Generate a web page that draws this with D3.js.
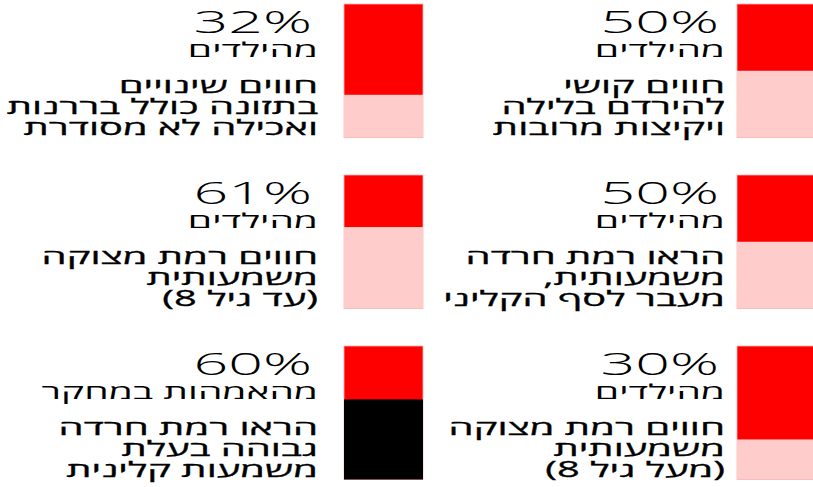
<!DOCTYPE html>
<html>
<head>
<meta charset="utf-8">
<script src="https://cdn.jsdelivr.net/npm/d3@7"></script>
<style>
  body { margin: 0; background: #fff; }
  svg { display: block; }
</style>
</head>
<body>
<svg id="chart" width="813" height="487"></svg>
<script>
// panels are read right-to-left, top-to-bottom
const percents = [50, 32, 50, 61, 30, 60];
const subjects = ["מהילדים", "מהילדים", "מהילדים", "מהילדים", "מהילדים", "מהאמהות במחקר"];
const descriptions = [
  ["חווים קושי", "להירדם בלילה", "ויקיצות מרובות"],
  ["חווים שינויים", "בתזונה כולל בררנות", "ואכילה לא מסודרת"],
  ["הראו רמת חרדה", "משמעותית,", "מעבר לסף הקליני"],
  ["חווים רמת מצוקה", "משמעותית", "(עד גיל 8)"],
  ["חווים רמת מצוקה", "משמעותית", "(מעל גיל 8)"],
  ["הראו רמת חרדה", "גבוהה בעלת", "משמעות קלינית"]
];
const fillColors = ["#ffcccc", "#ffcccc", "#ffcccc", "#ffcccc", "#ffcccc", "#000000"];

const BAR_WIDTH = 79;
const BAR_HEIGHT = 133.5;
const ROW_STEP = 171;
const TEXT_STRETCH = 1.9;
const FONT = "'Open Sans', 'DejaVu Sans', sans-serif";

const svg = d3.select("#chart");

// column position of each bar's left edge (right column first)
const colX = d3.scaleOrdinal().domain([0, 1]).range([737, 344]);

const panels = percents.map(function(p, i) {
  return { value: p, subject: subjects[i], desc: descriptions[i], fill: fillColors[i],
           col: i % 2, row: Math.floor(i / 2) };
});

const g = svg.selectAll(".panel")
  .data(panels)
  .enter()
  .append("g")
  .attr("class", "panel")
  .attr("transform", function(d) { return "translate(" + colX(d.col) + "," + (4 + d.row * ROW_STEP) + ")"; });

const y = d3.scaleLinear().domain([0, 100]).range([BAR_HEIGHT, 0]);

// red background = whole bar, value part at the bottom
g.append("rect")
  .attr("x", 0)
  .attr("y", y(100))
  .attr("width", BAR_WIDTH)
  .attr("height", y(0) - y(100))
  .attr("fill", "#ff0000")
  .attr("stroke", "#ffb3b3")
  .attr("stroke-width", 0.8);

g.append("rect")
  .attr("x", 0)
  .attr("y", function(d) { return y(d.value); })
  .attr("width", BAR_WIDTH)
  .attr("height", function(d) { return y(0) - y(d.value); })
  .attr("fill", function(d) { return d.fill; });

function addText(sel, dx, dy, txt, size, weight, thicken) {
  sel.append("text")
    .attr("transform", "translate(" + dx + "," + dy + ") scale(" + TEXT_STRETCH + ",1)")
    .attr("text-anchor", "start")
    .attr("direction", "rtl")
    .attr("font-family", FONT)
    .attr("font-size", size)
    .attr("font-weight", weight)
    .attr("fill", "#000")
    .attr("stroke", thicken ? "#000" : "none")
    .attr("stroke-width", thicken || 0)
    .text(txt);
}

g.each(function(d) {
  const sel = d3.select(this);
  const right = d.col === 0 ? -12 : -26;
  addText(sel, right - 6, 29, d.value + "%", 32, 300, 0);
  addText(sel, right, 53, d.subject, 20.5, 400, 0);
  d.desc.forEach(function(line, k) {
    addText(sel, right, 89 + k * 21, line, 21, 400, 0.3);
  });
});
</script>
</body>
</html>
